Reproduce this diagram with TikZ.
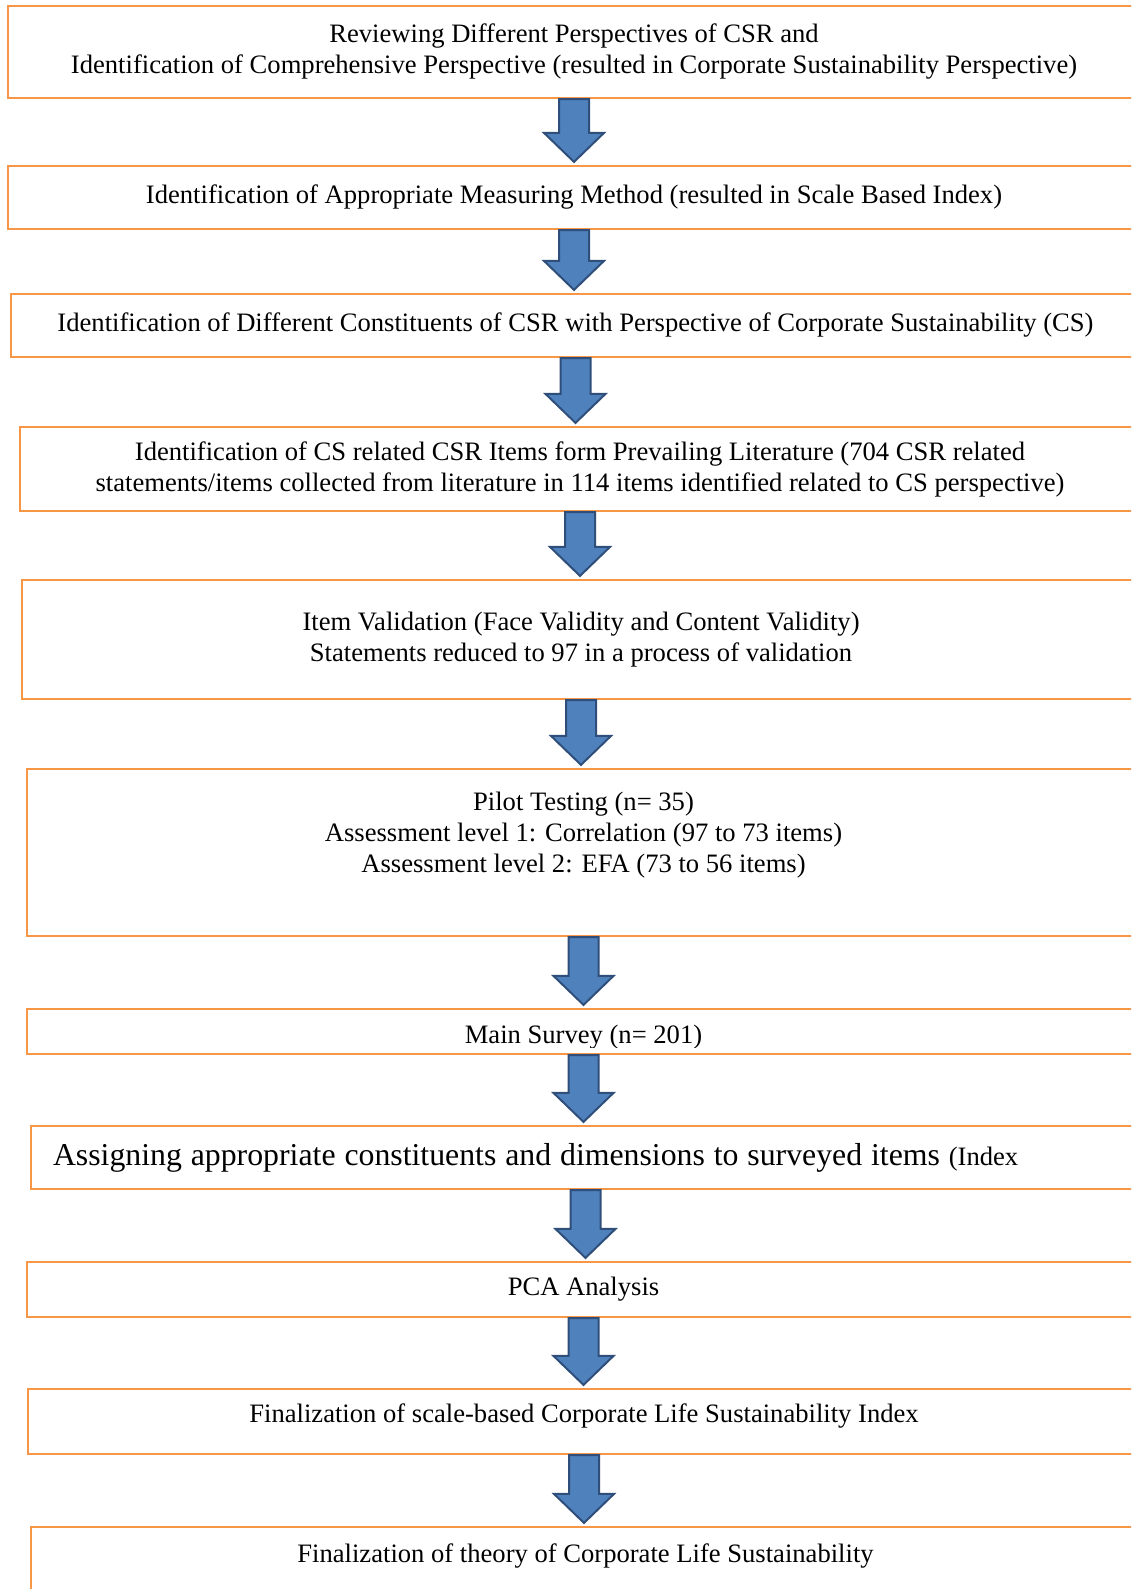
\documentclass[tikz,border=0pt]{standalone}
\usepackage{fontspec}
\setmainfont{Liberation Serif}
\usetikzlibrary{calc}
\definecolor{boxorange}{HTML}{F79646}
\definecolor{arrowblue}{HTML}{4F81BD}
\definecolor{arrowedge}{HTML}{2F4F7A}

\begin{document}
\begin{tikzpicture}[x=0.5pt, y=-0.5pt,
  box/.style={draw=boxorange, line width=1.1pt, align=center, inner sep=0pt, font=\fontsize{13.3}{15.5}\selectfont},
  boxtext/.style={align=center, inner sep=0pt, font=\fontsize{13.3}{15.5}\selectfont},
  fatarrow/.style={fill=arrowblue, draw=arrowedge, line width=1pt}]
\useasboundingbox (0,0) rectangle (1131,1589);
\clip (0,0) rectangle (1131,1589);
% boxes run off the right edge of the page
\node[box, minimum width=566pt, minimum height=46pt] (b1) at (574,52) {Reviewing Different Perspectives of CSR and\\Identification of Comprehensive Perspective (resulted in Corporate Sustainability Perspective)};
\node[box, minimum width=566pt, minimum height=31.5pt] (b2) at (574,197.5) {Identification of Appropriate Measuring Method (resulted in Scale Based Index)};
\node[box, minimum width=564.5pt, minimum height=31.5pt] (b3) at (575.5,325.5) {Identification of Different Constituents of CSR with Perspective of Corporate Sustainability (CS)};
\node[box, minimum width=560pt, minimum height=42pt] (b4) at (580,469) {Identification of CS related CSR Items form Prevailing Literature (704 CSR related\\statements/items collected from literature in 114 items identified related to CS perspective)};
\node[box, minimum width=559pt, minimum height=59.5pt] (b5) at (581,639.5) {Item Validation (Face Validity and Content Validity)\\Statements reduced to 97 in a process of validation};
\node[box, minimum width=556.5pt, minimum height=83.5pt] (b6) at (583.5,852.5) {};
\node[boxtext] (t6) at (583.5,835) {Pilot Testing (n= 35)\\Assessment level 1: Correlation (97 to 73 items)\\Assessment level 2: EFA (73 to 56 items)};
\node[box, minimum width=556.5pt, minimum height=22.5pt] (b7) at (583.5,1031.5) {};
\begin{scope}
\clip (b7.north west) rectangle ([yshift=4pt]b7.south east);
\node[boxtext, anchor=base] (t7) at (583.5,1043) {Main Survey (n= 201)};
\end{scope}
\node[box, minimum width=554.5pt, minimum height=31.5pt, text width=532.5pt, align=left] (b8) at (585.5,1157.5) {\fontsize{15.9}{17}\selectfont Assigning appropriate constituents and dimensions to surveyed items {\fontsize{13.3}{15}\selectfont(Index}};
\node[box, minimum width=556.5pt, minimum height=27.5pt] (b9) at (583.5,1289.5) {PCA Analysis};
\node[box, minimum width=556pt, minimum height=32.5pt, text depth=8pt] (b10) at (584,1421.5) {Finalization of scale-based Corporate Life Sustainability Index};
\node[box, minimum width=554.5pt, minimum height=56.5pt] (b11) at (585.5,1583.5) {};
\node[boxtext] (t11) at (585.5,1556) {Finalization of theory of Corporate Life Sustainability};
% block arrows
\foreach \a/\b in {b1/b2,b2/b3,b3/b4,b4/b5,b5/b6,b6/b7,b7/b8,b8/b9,b9/b10,b10/b11}
  \draw[fatarrow] let \p1=(\a.south), \p2=(\b.north) in
    (\x1-7.5pt,\y1) -- (\x1+7.5pt,\y1) -- (\x1+7.5pt,\y2+16pt) -- (\x1+15pt,\y2+16pt)
    -- (\x1,\y2+1.5pt) -- (\x1-15pt,\y2+16pt) -- (\x1-7.5pt,\y2+16pt) -- cycle;
\end{tikzpicture}
\end{document}
